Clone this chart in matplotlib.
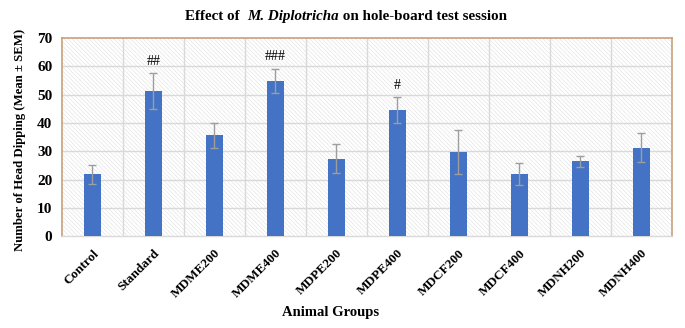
import numpy as np
import matplotlib
matplotlib.use("Agg")
import matplotlib.pyplot as plt
from matplotlib.patches import Rectangle

plt.rcParams['font.family'] = ['Liberation Serif', 'DejaVu Serif']
plt.rcParams['hatch.linewidth'] = 0.4

groups = ["Control", "Standard", "MDME200", "MDME400", "MDPE200",
          "MDPE400", "MDCF200", "MDCF400", "MDNH200", "MDNH400"]
means = [21.8, 51.3, 35.6, 54.9, 27.4, 44.5, 29.8, 21.8, 26.4, 31.3]
sems = [3.5, 6.2, 4.4, 4.3, 5.0, 4.5, 7.7, 3.9, 1.9, 5.2]
marks = {"Standard": "##", "MDME400": "###", "MDPE400": "#"}

fig = plt.figure(figsize=(6.85, 3.28), dpi=100)
ax = fig.add_axes([0.0905, 0.280, 0.8905, 0.604])

x = np.arange(len(groups))
ax.set_xlim(-0.5, len(groups) - 0.5)
ax.set_ylim(0, 70)

# hatched background like the Excel plot area
ax.add_patch(Rectangle((0, 0), 1, 1, transform=ax.transAxes, facecolor="white",
                       edgecolor="#e0e0e0", hatch="\\" * 8, lw=0, zorder=0))

for yv in range(10, 70, 10):
    ax.axhline(yv, color="#d9d9d9", lw=1.0, zorder=1)
for xv in np.arange(0.5, len(groups) - 0.5, 1):
    ax.axvline(xv, color="#d9d9d9", lw=1.0, zorder=1)

ax.bar(x, means, width=0.27, color="#4472C4", zorder=3)
ax.errorbar(x, means, yerr=sems, fmt="none", ecolor="#9e9e9e", elinewidth=1.0,
            capsize=3, capthick=1.0, zorder=4)

for i, g in enumerate(groups):
    if g in marks:
        ax.text(i, means[i] + sems[i] + 2.0, marks[g], ha="center", va="bottom",
                fontsize=10, zorder=5)

for side in ["top", "left", "right"]:
    ax.spines[side].set_color("#c8a07c")
    ax.spines[side].set_linewidth(1.2)
ax.spines["bottom"].set_color("#d9d9d9")
ax.spines["bottom"].set_linewidth(1.0)

ax.set_yticks(range(0, 71, 10))
ax.set_yticklabels([str(v) for v in range(0, 71, 10)], fontsize=11, fontweight="bold")
ax.set_xticks(x)
ax.set_xticklabels(groups, rotation=45, ha="right", rotation_mode="anchor",
                   fontsize=9.5, fontweight="bold")
ax.tick_params(axis="y", length=0, pad=7)
ax.tick_params(axis="x", length=0, pad=8)

# title in three pieces so the species name is bold italic
parts = [("Effect of  ", "normal"), ("M. Diplotricha", "italic"),
         (" on hole-board test session", "normal")]
fig.canvas.draw()
r = fig.canvas.get_renderer()
objs = []
for s, st in parts:
    t = fig.text(0, 0.95, s, ha="left", va="center", fontsize=10.8,
                 fontweight="bold", style=st)
    objs.append(t)
widths = [t.get_window_extent(r).width for t in objs]
xpos = 0.505 * fig.bbox.width - sum(widths) / 2
for t, w in zip(objs, widths):
    t.set_x(xpos / fig.bbox.width)
    xpos += w

fig.text(0.029, 0.573, "Number of Head Dipping (Mean ± SEM)", rotation=90,
         ha="center", va="center", fontsize=9.2, fontweight="bold")
fig.text(0.482, 0.048, "Animal Groups", ha="center", va="center",
         fontsize=10.5, fontweight="bold")

fig.savefig("out.png", dpi=100)
